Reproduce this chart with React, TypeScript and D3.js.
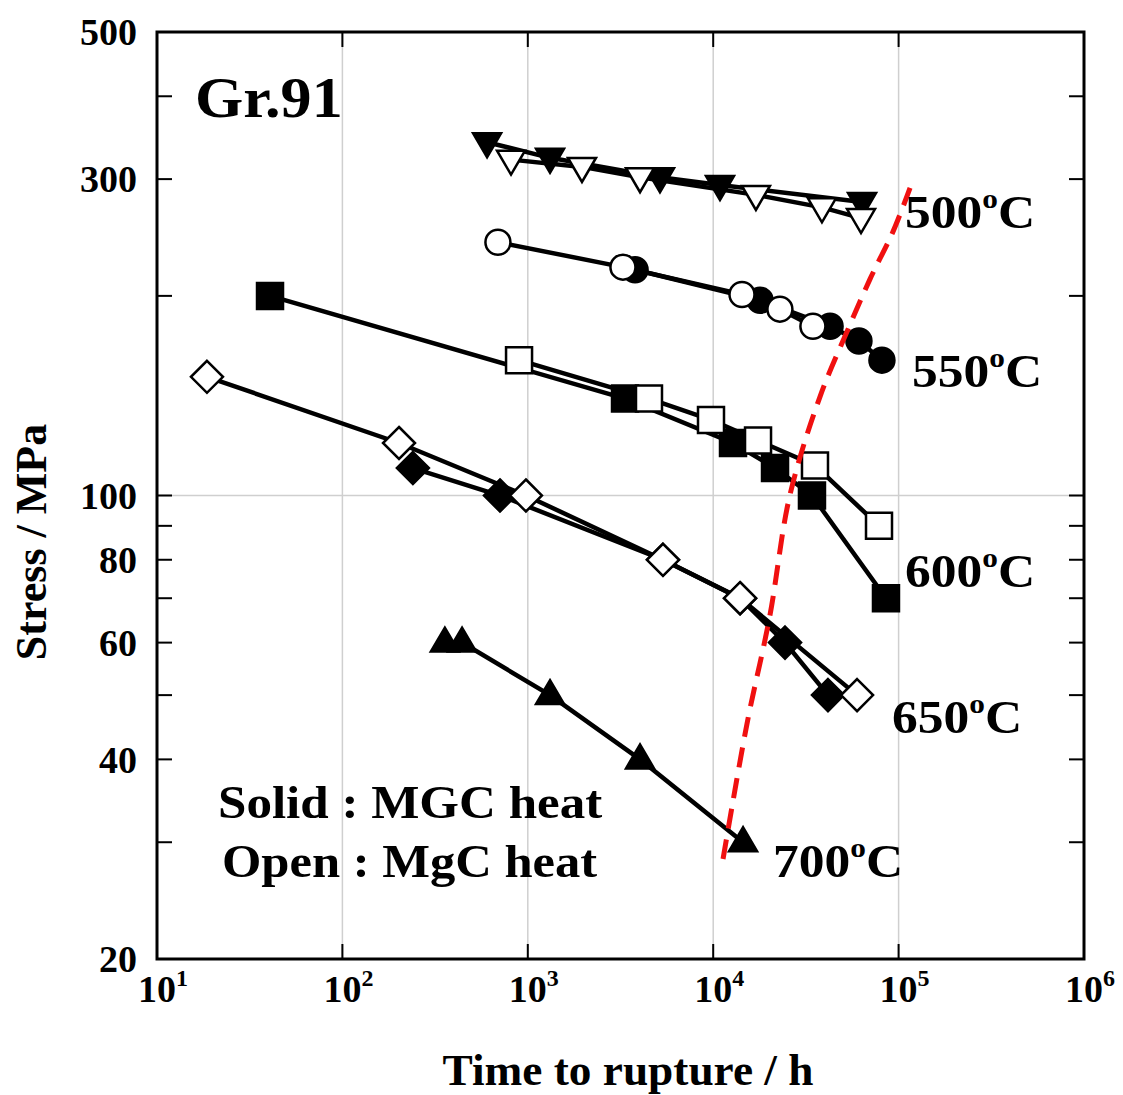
import React from "react";
import * as d3 from "d3";

// ---- data (time to rupture [h], stress [MPa]) ----
const t500Solid = [603, 1318, 5164, 10880, 63500];
const s500Solid = [341, 323, 302, 294, 277];
const t500Open = [812, 1960, 4030, 17000, 38600, 62700];
const s500Open = [321, 313, 302, 284, 272, 262];

const t550Solid = [3790, 17900, 42700, 61100, 81300];
const s550Solid = [219, 197, 180, 171, 160];
const t550Open = [690, 3260, 14300, 22900, 34500];
const s550Open = [241, 221, 201, 191, 180];

const t600Solid = [40.7, 3345, 12790, 21550, 34100, 85500];
const s600Solid = [200, 140, 120, 110, 100, 70];
const t600Open = [897, 4505, 9730, 17450, 35400, 78400];
const s600Open = [160, 140, 130, 121, 111, 90];

const t650Solid = [240, 708, 5360, 13960, 24400, 41600];
const s650Solid = [110, 100, 80, 70, 60, 50];
const t650Open = [18.6, 202, 977, 5360, 13960, 59700];
const s650Open = [151, 120, 100, 80, 70, 50];

const t700Solid = [357, 442, 1318, 4030, 14490];
const s700Solid = [60, 60, 50, 40, 30];

const tRed = [11300, 15200, 20200, 25900, 37700, 53300, 70100, 93300, 115300];
const sRed = [28.3, 45.2, 65.8, 100, 141, 178, 212, 250, 291];

const yLabelTicks = [20, 40, 60, 80, 100, 300, 500];
const yAllTicks = [30, 40, 50, 60, 70, 80, 90, 100, 200, 300, 400];
const xDecades = [1, 2, 3, 4, 5, 6];

const tempLabels = [
  { t: "500", x: 905, y: 228 },
  { t: "550", x: 912, y: 387 },
  { t: "600", x: 905, y: 587 },
  { t: "650", x: 892, y: 733 },
  { t: "700", x: 773, y: 877 },
];

const L = 157, R = 1084, T = 32, B = 959;
const FONT = "'Liberation Serif', 'Times New Roman', serif";

type Shape = "tdown" | "tup" | "circle" | "square" | "diamond";

function markerPath(shape: Shape, cx: number, cy: number): string {
  switch (shape) {
    case "tdown":
      return `M${cx - 14},${cy - 9}L${cx + 14},${cy - 9}L${cx},${cy + 15}Z`;
    case "tup":
      return `M${cx - 14},${cy + 9}L${cx + 14},${cy + 9}L${cx},${cy - 15}Z`;
    case "square":
      return `M${cx - 13},${cy - 13}h26v26h-26Z`;
    case "diamond":
      return `M${cx},${cy - 16}L${cx + 16},${cy}L${cx},${cy + 16}L${cx - 16},${cy}Z`;
    default:
      return `M${cx - 12.5},${cy}a12.5,12.5 0 1,0 25,0a12.5,12.5 0 1,0 -25,0Z`;
  }
}

export default function App() {
  const x = d3.scaleLog().domain([10, 1e6]).range([L, R]);
  const y = d3.scaleLog().domain([20, 500]).range([B, T]);

  const line = d3
    .line<[number, number]>()
    .x((d) => x(d[0]))
    .y((d) => y(d[1]));

  const redLine = d3
    .line<[number, number]>()
    .x((d) => x(d[0]))
    .y((d) => y(d[1]))
    .curve(d3.curveCatmullRom);

  const series: { t: number[]; s: number[]; shape: Shape; open: boolean }[] = [
    { t: t500Solid, s: s500Solid, shape: "tdown", open: false },
    { t: t550Solid, s: s550Solid, shape: "circle", open: false },
    { t: t600Solid, s: s600Solid, shape: "square", open: false },
    { t: t650Solid, s: s650Solid, shape: "diamond", open: false },
    { t: t700Solid, s: s700Solid, shape: "tup", open: false },
    { t: t500Open, s: s500Open, shape: "tdown", open: true },
    { t: t550Open, s: s550Open, shape: "circle", open: true },
    { t: t600Open, s: s600Open, shape: "square", open: true },
    { t: t650Open, s: s650Open, shape: "diamond", open: true },
  ];

  const zip = (a: number[], b: number[]) => a.map((v, i) => [v, b[i]] as [number, number]);

  return (
    <svg
      width={1123}
      height={1095}
      style={{ position: "absolute", left: 0, top: 0, background: "#fff" }}
      fontFamily={FONT}
      fontWeight="bold"
    >
      <rect x={0} y={0} width={1123} height={1095} fill="#fff" />
      {/* grid */}
      {[2, 3, 4, 5].map((d) => (
        <line key={"gx" + d} x1={x(10 ** d)} x2={x(10 ** d)} y1={T} y2={B} stroke="#cfcfcf" strokeWidth={1.5} />
      ))}
      <line x1={L} x2={R} y1={y(100)} y2={y(100)} stroke="#cfcfcf" strokeWidth={1.5} />

      {/* ticks */}
      {yAllTicks.map((v) => (
        <g key={"yt" + v}>
          <line x1={L} x2={L + 15} y1={y(v)} y2={y(v)} stroke="#000" strokeWidth={2} />
          <line x1={R - 15} x2={R} y1={y(v)} y2={y(v)} stroke="#000" strokeWidth={2} />
        </g>
      ))}
      {[2, 3, 4, 5].map((d) => (
        <g key={"xt" + d}>
          <line x1={x(10 ** d)} x2={x(10 ** d)} y1={B} y2={B - 15} stroke="#000" strokeWidth={2} />
          <line x1={x(10 ** d)} x2={x(10 ** d)} y1={T} y2={T + 15} stroke="#000" strokeWidth={2} />
        </g>
      ))}

      {/* tick labels */}
      {yLabelTicks.map((v) => (
        <text key={"yl" + v} x={137} y={y(v)} dy="0.35em" textAnchor="end" fontSize={38}>
          {v}
        </text>
      ))}
      {xDecades.map((d) => (
        <text key={"xl" + d} x={x(10 ** d) - 19} y={1002} fontSize={38}>
          10
          <tspan fontSize={24} dy={-16}>
            {d}
          </tspan>
        </text>
      ))}

      {/* axis titles */}
      <text transform="translate(628,1085) scale(1.03,1)" textAnchor="middle" fontSize={44}>
        Time to rupture / h
      </text>
      <text transform="translate(46,542) rotate(-90)" textAnchor="middle" fontSize={44}>
        Stress / MPa
      </text>

      {/* data */}
      {series.map((sr, i) => {
        const pts = zip(sr.t, sr.s);
        return (
          <g key={"s" + i}>
            <path d={line(pts) || ""} fill="none" stroke="#000" strokeWidth={4.5} />
            {pts.map((p, j) => (
              <path
                key={j}
                d={markerPath(sr.shape, x(p[0]), y(p[1]))}
                fill={sr.open ? "#fff" : "#000"}
                stroke="#000"
                strokeWidth={2.5}
                strokeLinejoin="miter"
              />
            ))}
          </g>
        );
      })}

      {/* red dashed boundary */}
      <path
        d={redLine(zip(tRed, sRed)) || ""}
        fill="none"
        stroke="#f01010"
        strokeWidth={5}
        strokeDasharray="20,11"
      />

      {/* frame */}
      <rect x={L} y={T} width={R - L} height={B - T} fill="none" stroke="#000" strokeWidth={3} />

      {/* annotations */}
      <text transform="translate(195,117) scale(1.07,1)" fontSize={58}>
        Gr.91
      </text>
      {tempLabels.map((lb) => (
        <text key={lb.t} transform={`translate(${lb.x},${lb.y}) scale(1.12,1)`} fontSize={46}>
          {lb.t}
          <tspan fontSize={28} dy={-20}>
            o
          </tspan>
          <tspan dy={20}>C</tspan>
        </text>
      ))}
      <text transform="translate(218,818) scale(1.11,1)" fontSize={46}>
        Solid : MGC heat
      </text>
      <text transform="translate(222,877) scale(1.1,1)" fontSize={46}>
        Open : MgC heat
      </text>
    </svg>
  );
}
